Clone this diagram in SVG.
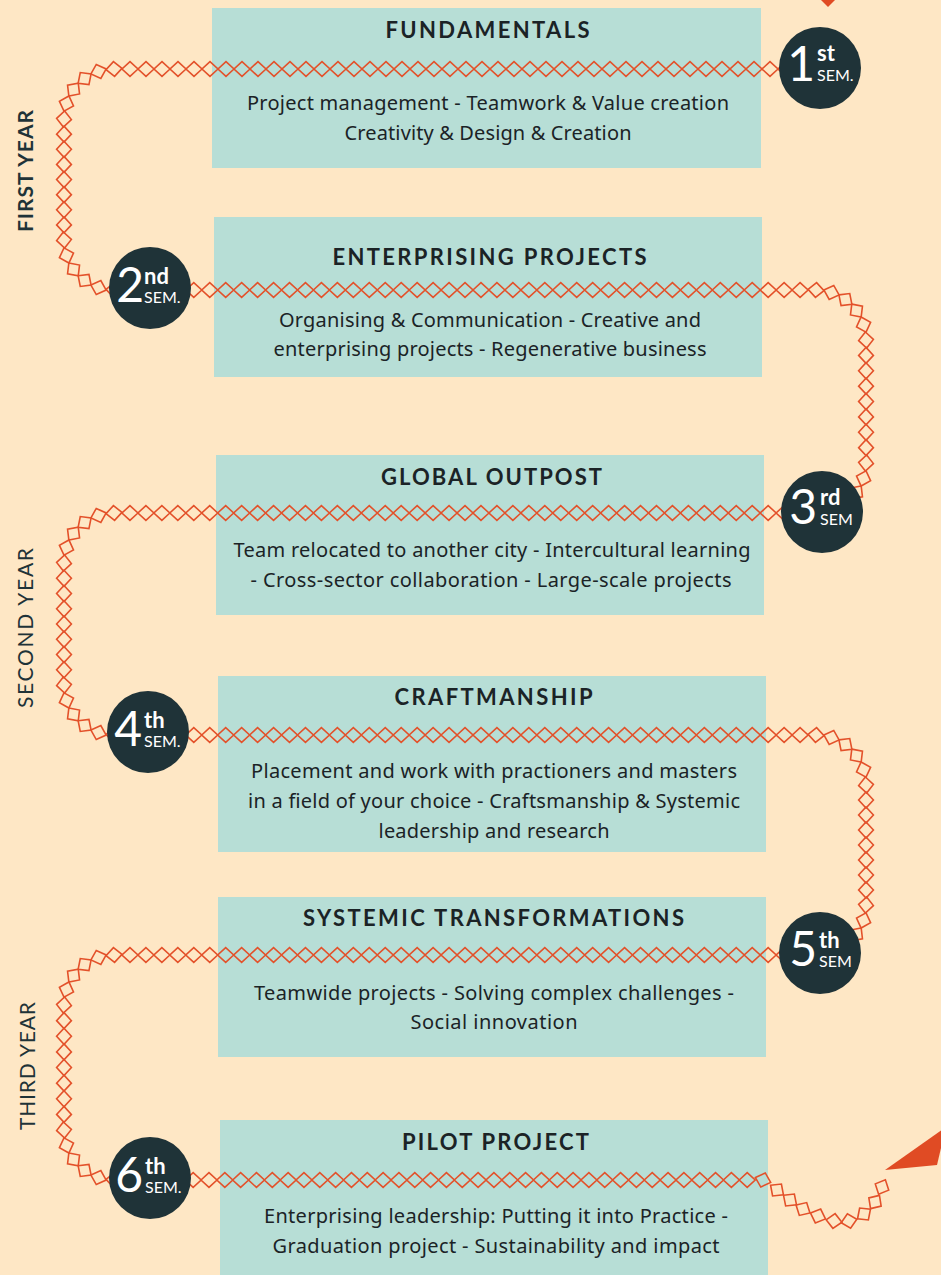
<svg xmlns="http://www.w3.org/2000/svg" width="941" height="1275" viewBox="0 0 941 1275">
<style>
.box{fill:#b7ded6}
.t{font-family:Lato,"Noto Sans",sans-serif;font-weight:700;font-size:22px;fill:#1b2326;text-anchor:middle;letter-spacing:1px}
.b{font-family:"Noto Sans",sans-serif;font-size:20px;fill:#1b2326;text-anchor:middle}
.c{fill:#1f3338}
.d{font-family:Lato,sans-serif;font-size:48px;fill:#fff;text-anchor:end}
.s{font-family:Lato,sans-serif;font-weight:700;font-size:22px;fill:#fff}
.m{font-family:Lato,sans-serif;font-size:16px;fill:#fff}
.y{font-family:Lato,sans-serif;font-size:21px;fill:#1f3338;text-anchor:middle}
.ar{fill:#e04b24}
</style>
<defs>
<marker id="dm" viewBox="-10 -10 20 20" markerWidth="20" markerHeight="20" refX="0" refY="0" orient="auto" markerUnits="userSpaceOnUse">
<path d="M-8 0L0-7.4L8 0L0 7.4Z" fill="none" stroke="#e3512a" stroke-width="1.6"/>
</marker>
</defs>
<rect width="941" height="1275" fill="#fee7c5"/>

<text class="y" font-weight="700" transform="translate(33 171) rotate(-90)" textLength="122">FIRST YEAR</text>
<text class="y" transform="translate(33 628) rotate(-90)" textLength="160">SECOND YEAR</text>
<text class="y" transform="translate(35 1066) rotate(-90)" textLength="128">THIRD YEAR</text>

<g id="box1"><rect class="box" x="212" y="8" width="549" height="160"/>
<text class="t" x="488" y="38" textLength="205">FUNDAMENTALS</text>
<text class="b" x="488" y="110" textLength="482">Project management - Teamwork &amp; Value creation</text>
<text class="b" x="488" y="140" textLength="287">Creativity &amp; Design &amp; Creation</text></g>

<g id="box2"><rect class="box" x="214" y="217" width="548" height="160"/>
<text class="t" x="490" y="265" textLength="315">ENTERPRISING PROJECTS</text>
<text class="b" x="490" y="327" textLength="422">Organising &amp; Communication - Creative and</text>
<text class="b" x="490" y="356" textLength="433">enterprising projects - Regenerative business</text></g>

<g id="box3"><rect class="box" x="216" y="455" width="548" height="160"/>
<text class="t" x="492" y="485" textLength="222">GLOBAL OUTPOST</text>
<text class="b" x="492" y="557" textLength="517">Team relocated to another city - Intercultural learning</text>
<text class="b" x="491" y="587" textLength="481">- Cross-sector collaboration - Large-scale projects</text></g>

<g id="box4"><rect class="box" x="218" y="676" width="548" height="176"/>
<text class="t" x="494" y="705" textLength="199">CRAFTMANSHIP</text>
<text class="b" x="494" y="778" textLength="486">Placement and work with practioners and masters</text>
<text class="b" x="494" y="808" textLength="492">in a field of your choice - Craftsmanship &amp; Systemic</text>
<text class="b" x="494" y="838" textLength="231">leadership and research</text></g>

<g id="box5"><rect class="box" x="218" y="897" width="548" height="160"/>
<text class="t" x="494" y="926" textLength="382">SYSTEMIC TRANSFORMATIONS</text>
<text class="b" x="494" y="1000" textLength="480">Teamwide projects - Solving complex challenges -</text>
<text class="b" x="494" y="1029" textLength="167">Social innovation</text></g>

<g id="box6"><rect class="box" x="220" y="1120" width="548" height="160"/>
<text class="t" x="496" y="1150" textLength="188">PILOT PROJECT</text>
<text class="b" x="496" y="1223" textLength="464">Enterprising leadership: Putting it into Practice -</text>
<text class="b" x="496" y="1253" textLength="447">Graduation project - Sustainability and impact</text></g>

<g id="connectors">
<polygon class="ar" points="817,-4 839,-4 828,7"/>
<polygon class="ar" points="885,1170 946,1127 937,1165"/>
<path fill="none" stroke="none" marker-start="url(#dm)" marker-mid="url(#dm)" marker-end="url(#dm)" d="M818 69
h-16-16-16-16-16-16-16-16-16-16-16-16-16-16-16-16-16-16-16-16-16-16-16-16-16-16-16-16-16-16-16-16-16-16-16-16-16-16-16-16-16-16-16-16
l-15.45 2.45-13.94 7.1-11.06 11.06-7.1 13.94-2.45 15.45
v15.125 15.125 15.125 15.125 15.125 15.125 15.125 15.125
l2.45 15.45 7.1 13.94 11.06 11.06 13.94 7.1 15.45 2.45
h15.955 15.955 15.955 15.955 15.955 15.955 15.955 15.955 15.955 15.955 15.955 15.955 15.955 15.955 15.955 15.955 15.955 15.955 15.955 15.955 15.955 15.955 15.955 15.955 15.955 15.955 15.955 15.955 15.955 15.955 15.955 15.955 15.955 15.955 15.955 15.955 15.955 15.955 15.955 15.955 15.955 15.955 15.955 15.955
l15.45 2.45 13.94 7.1 11.06 11.06 7.1 13.94 2.45 15.45
v15.375 15.375 15.375 15.375 15.375 15.375 15.375 15.375
l-2.45 15.45-7.1 13.94-11.06 11.06-13.94 7.1-15.45 2.45
h-15.955-15.955-15.955-15.955-15.955-15.955-15.955-15.955-15.955-15.955-15.955-15.955-15.955-15.955-15.955-15.955-15.955-15.955-15.955-15.955-15.955-15.955-15.955-15.955-15.955-15.955-15.955-15.955-15.955-15.955-15.955-15.955-15.955-15.955-15.955-15.955-15.955-15.955-15.955-15.955-15.955-15.955-15.955-15.955
l-15.45 2.45-13.94 7.1-11.06 11.06-7.1 13.94-2.45 15.45
v15.25 15.25 15.25 15.25 15.25 15.25 15.25 15.25
l2.45 15.45 7.1 13.94 11.06 11.06 13.94 7.1 15.45 2.45
h15.955 15.955 15.955 15.955 15.955 15.955 15.955 15.955 15.955 15.955 15.955 15.955 15.955 15.955 15.955 15.955 15.955 15.955 15.955 15.955 15.955 15.955 15.955 15.955 15.955 15.955 15.955 15.955 15.955 15.955 15.955 15.955 15.955 15.955 15.955 15.955 15.955 15.955 15.955 15.955 15.955 15.955 15.955 15.955
l15.45 2.45 13.94 7.1 11.06 11.06 7.1 13.94 2.45 15.45
v15 15 15 15 15 15 15 15
l-2.45 15.45-7.1 13.94-11.06 11.06-13.94 7.1-15.45 2.45
h-15.955-15.955-15.955-15.955-15.955-15.955-15.955-15.955-15.955-15.955-15.955-15.955-15.955-15.955-15.955-15.955-15.955-15.955-15.955-15.955-15.955-15.955-15.955-15.955-15.955-15.955-15.955-15.955-15.955-15.955-15.955-15.955-15.955-15.955-15.955-15.955-15.955-15.955-15.955-15.955-15.955-15.955-15.955-15.955
l-15.45 2.45-13.94 7.1-11.06 11.06-7.1 13.94-2.45 15.45
v15.625 15.625 15.625 15.625 15.625 15.625 15.625 15.625
l2.45 15.45 7.1 13.94 11.06 11.06 13.94 7.1 15.45 2.45
h15.83 15.83 15.83 15.83 15.83 15.83 15.83 15.83 15.83 15.83 15.83 15.83 15.83 15.83 15.83 15.83 15.83 15.83 15.83 15.83 15.83 15.83 15.83 15.83 15.83 15.83 15.83 15.83 15.83 15.83 15.83 15.83 15.83 15.83 15.83 15.83 15.83 15.83 15.83 15.83 15.83
L777 1190 790 1200 803 1209 818 1216 834 1221 849 1221 864 1214 875 1202 882 1187"/>
</g>

<g id="sem1"><circle class="c" cx="820" cy="68" r="41"/>
<text class="d" x="815" y="81" font-size="56">1</text><text class="s" x="817" y="61">st</text><text class="m" x="817" y="81">SEM.</text></g>
<g id="sem2"><circle class="c" cx="150" cy="288" r="41"/>
<text class="d" x="144" y="302">2</text><text class="s" x="144" y="284">nd</text><text class="m" x="144" y="303">SEM.</text></g>
<g id="sem3"><circle class="c" cx="822" cy="512" r="41"/>
<text class="d" x="817" y="524">3</text><text class="s" x="820" y="505">rd</text><text class="m" x="820" y="525">SEM</text></g>
<g id="sem4"><circle class="c" cx="148" cy="732" r="41"/>
<text class="d" x="142" y="746">4</text><text class="s" x="144" y="728">th</text><text class="m" x="144" y="747">SEM.</text></g>
<g id="sem5"><circle class="c" cx="820" cy="953" r="41"/>
<text class="d" x="817" y="966">5</text><text class="s" x="819" y="948">th</text><text class="m" x="819" y="967">SEM</text></g>
<g id="sem6"><circle class="c" cx="150" cy="1178" r="41"/>
<text class="d" x="143" y="1192">6</text><text class="s" x="145" y="1174">th</text><text class="m" x="145" y="1193">SEM.</text></g>
</svg>
